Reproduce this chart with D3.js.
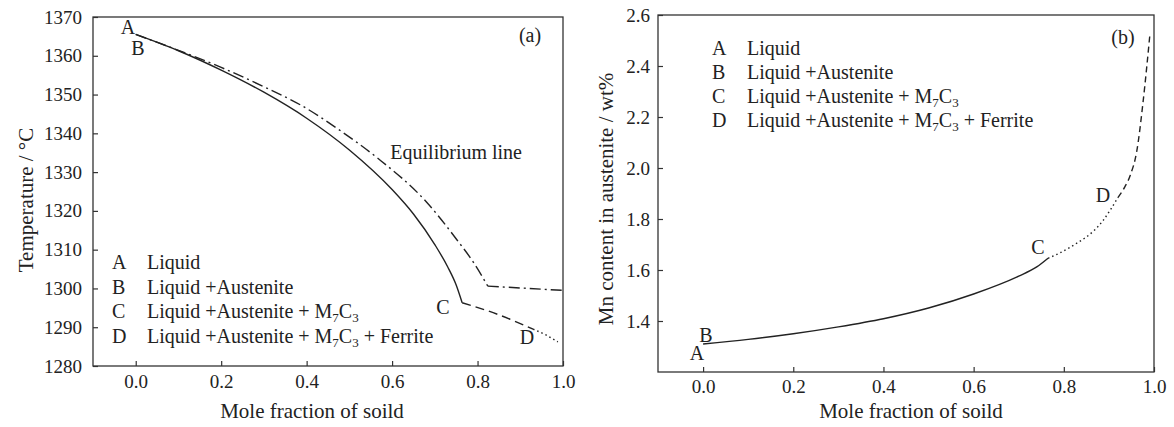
<!DOCTYPE html>
<html>
<head>
<meta charset="utf-8">
<script src="https://cdn.jsdelivr.net/npm/d3@7"></script>
<style>
  body { margin: 0; background: #fff; }
  svg text { font-family: "Liberation Serif", "Times New Roman", serif; fill: #222; }
</style>
</head>
<body>
<script>
// --- data ---
const fracTicks = [0.0, 0.2, 0.4, 0.6, 0.8, 1.0];
const tempTicks = [1280, 1290, 1300, 1310, 1320, 1330, 1340, 1350, 1360, 1370];
const mnTicks = [1.4, 1.6, 1.8, 2.0, 2.2, 2.4, 2.6];

// panel (a): temperature vs mole fraction of solid
const scheilSolid = [[0.0, 1365.5], [0.1, 1361.3], [0.2, 1356.3], [0.3, 1350.6], [0.4, 1343.9],
  [0.5, 1335.7], [0.6, 1325.5], [0.65, 1319.2], [0.7, 1311.3], [0.73, 1305.6], [0.75, 1300.9], [0.764, 1296.3]];
const scheilDashed = [[0.764, 1296.3], [0.85, 1293.2], [0.93, 1289.5]];
const scheilDotted = [[0.93, 1289.5], [0.96, 1288.0], [0.988, 1286.2]];
const equilCurve = [[0.0, 1365.5], [0.1, 1361.4], [0.2, 1357.0], [0.3, 1352.0], [0.386, 1347.3],
  [0.48, 1340.6], [0.565, 1333.7], [0.682, 1322.1], [0.752, 1312.5], [0.79, 1306.8], [0.824, 1300.6]];
const equilFlat = [[0.824, 1300.6], [1.0, 1299.5]];

// panel (b): Mn content in austenite
const mnSolid = [[0.0, 1.31], [0.1, 1.328], [0.2, 1.350], [0.3, 1.377], [0.4, 1.409],
  [0.5, 1.451], [0.6, 1.506], [0.7, 1.576], [0.74, 1.612], [0.765, 1.646]];
const mnDotted = [[0.765, 1.646], [0.814, 1.689], [0.887, 1.794], [0.92, 1.884]];
const mnDashed = [[0.92, 1.884], [0.935, 1.925], [0.947, 1.970], [0.962, 2.068], [0.976, 2.263], [0.991, 2.525]];

const legendKeys = ["A", "B", "C", "D"];
const legendPhases = [
  [["Liquid", false]],
  [["Liquid +Austenite", false]],
  [["Liquid +Austenite + M", false], ["7", true], ["C", false], ["3", true]],
  [["Liquid +Austenite + M", false], ["7", true], ["C", false], ["3", true], [" + Ferrite", false]]
];

const W = 1174, H = 427;
const svg = d3.select("body").append("svg")
  .attr("width", W)
  .attr("height", H);

function drawPanel(opt) {
  let x = d3.scaleLinear().domain([-0.1, 1.0]).range([opt.left, opt.right]);
  let y = d3.scaleLinear().domain(opt.yDomain).range([opt.bottom, opt.top]);
  let g = svg.append("g");

  // axes, ticks pointing inward
  let xa = g.append("g")
    .attr("transform", "translate(0," + opt.bottom + ")")
    .call(d3.axisBottom(x).tickValues(fracTicks).tickFormat(d3.format(".1f"))
      .tickSizeInner(-5).tickSizeOuter(0).tickPadding(opt.xPad));
  let ya = g.append("g")
    .attr("transform", "translate(" + opt.left + ",0)")
    .call(d3.axisLeft(y).tickValues(opt.yTicks).tickFormat(opt.yFormat)
      .tickSizeInner(-5).tickSizeOuter(0).tickPadding(opt.yPad));
  [xa, ya].forEach(a => {
    a.select(".domain").remove();
    a.selectAll("line").attr("stroke", "#333").attr("stroke-width", 1.2);
    a.selectAll("text").style("font-size", "19px").attr("fill", "#222");
  });

  // frame
  g.append("rect")
    .attr("x", opt.left).attr("y", opt.top)
    .attr("width", opt.right - opt.left).attr("height", opt.bottom - opt.top)
    .attr("fill", "none").attr("stroke", "#333").attr("stroke-width", 1.3);

  // axis titles
  g.append("text")
    .attr("x", opt.xTitleX).attr("y", 418)
    .attr("text-anchor", "middle")
    .style("font-size", "21px")
    .text("Mole fraction of soild");
  g.append("text")
    .attr("transform", "translate(" + opt.yTitleX + "," + opt.yTitleY + ") rotate(-90)")
    .attr("text-anchor", "middle")
    .style("font-size", "21px")
    .text(opt.yTitle);

  let line = d3.line()
    .x(d => x(d[0]))
    .y(d => y(d[1]))
    .curve(d3.curveMonotoneX);

  opt.series.forEach(s => {
    g.append("path")
      .datum(s.data)
      .attr("d", line)
      .attr("fill", "none")
      .attr("stroke", "#222")
      .attr("stroke-width", 1.4)
      .attr("stroke-dasharray", s.dash);
  });

  // legend
  legendKeys.forEach((k, i) => {
    g.append("text")
      .attr("x", opt.legX).attr("y", opt.legY + i * opt.legStep)
      .style("font-size", "20px")
      .text(k);
    let t = g.append("text")
      .attr("x", opt.legX + 35).attr("y", opt.legY + i * opt.legStep)
      .style("font-size", "20px");
    let wasSub = false;
    legendPhases[i].forEach(p => {
      let ts = t.append("tspan").text(p[0]);
      if (p[1]) {
        ts.attr("dy", 4).style("font-size", "13px");
      } else if (wasSub) {
        ts.attr("dy", -4);
      }
      wasSub = p[1];
    });
  });

  // point labels
  opt.labels.forEach(l => {
    g.append("text")
      .attr("x", l[1]).attr("y", l[2])
      .attr("text-anchor", "middle")
      .style("font-size", "20px")
      .text(l[0]);
  });
  return { x: x, y: y, g: g };
}

// panel (a)
let pa = drawPanel({
  left: 93, right: 563, top: 17, bottom: 366,
  yDomain: [1280, 1370], yTicks: tempTicks, yFormat: d3.format("d"), yPad: 11, xPad: 9,
  yTitle: "Temperature / \u00B0C", yTitleX: 33, yTitleY: 200, xTitleX: 312,
  legX: 112, legY: 269, legStep: 24.5,
  series: [
    { data: scheilSolid, dash: null },
    { data: scheilDashed, dash: "9,5" },
    { data: scheilDotted, dash: "1.5,3" },
    { data: equilCurve, dash: "11,4,2,4" },
    { data: equilFlat, dash: "11,4,2,4" }
  ],
  labels: [["A", 128, 34], ["B", 138, 55], ["C", 443, 314], ["D", 527, 344]]
});
pa.g.append("text")
  .attr("x", pa.x(0.75)).attr("y", pa.y(1333.5))
  .attr("text-anchor", "middle")
  .style("font-size", "20px")
  .text("Equilibrium line");
pa.g.append("text")
  .attr("x", 530).attr("y", 42)
  .attr("text-anchor", "middle")
  .style("font-size", "20px")
  .text("(a)");

// panel (b)
let pb = drawPanel({
  left: 658, right: 1154, top: 15, bottom: 372,
  yDomain: [1.2, 2.6], yTicks: mnTicks, yFormat: d3.format(".1f"), yPad: 8, xPad: 8,
  yTitle: "Mn content in austenite / wt%", yTitleX: 613, yTitleY: 199, xTitleX: 911,
  legX: 712, legY: 55, legStep: 24,
  series: [
    { data: mnSolid, dash: null },
    { data: mnDotted, dash: "1.5,3" },
    { data: mnDashed, dash: "6,4" }
  ],
  labels: [["A", 697, 360], ["B", 706, 342], ["C", 1038, 254], ["D", 1103, 202]]
});
pb.g.append("text")
  .attr("x", 1123).attr("y", 44)
  .attr("text-anchor", "middle")
  .style("font-size", "20px")
  .text("(b)");
</script>
</body>
</html>
